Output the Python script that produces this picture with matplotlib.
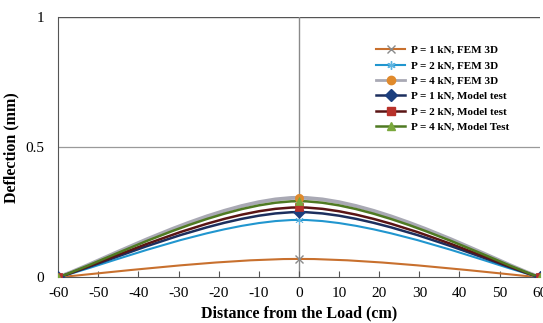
import numpy as np
import matplotlib.pyplot as plt
from matplotlib.path import Path
from matplotlib.patches import PathPatch
from matplotlib.lines import Line2D

plt.rcParams['font.family'] = ['Liberation Serif', 'DejaVu Serif']
plt.rcParams['axes.unicode_minus'] = False

# Data: deflection (mm) at the measured stations
distance = [-60, 0, 60]
labels = ['P = 1 kN, FEM 3D', 'P = 2 kN, FEM 3D', 'P = 4 kN, FEM 3D',
          'P = 1 kN, Model test', 'P = 2 kN, Model test', 'P = 4 kN, Model Test']
fem_1kn = [0.0, 0.07, 0.0]
fem_2kn = [0.0, 0.22, 0.0]
fem_4kn = [0.0, 0.305, 0.0]
model_1kn = [0.0, 0.25, 0.0]
model_2kn = [0.0, 0.268, 0.0]
model_4kn = [0.0, 0.292, 0.0]
series = [fem_1kn, fem_2kn, fem_4kn, model_1kn, model_2kn, model_4kn]

# style: line colour, marker, marker colour, line width
styles = [
    ('#c8702e', 'x', '#8a8a8a', 1.5),
    ('#2196cf', (6, 2, 0), '#5fb4e0', 1.5),
    ('#a9a9b4', 'o', '#e08a2c', 2.8),
    ('#1c2f5e', 'D', '#1c3f7e', 1.8),
    ('#5a1414', 's', '#b8312a', 1.8),
    ('#4f7a22', '^', '#7aa83c', 1.8),
]
draw_order = [0, 1, 3, 4, 5, 2]


def smooth_path(xs, ys):
    # Catmull-Rom style cubic bezier through the points (Excel "smoothed line")
    pts = np.column_stack([xs, ys]).astype(float)
    n = len(pts)
    verts = [pts[0]]
    codes = [Path.MOVETO]
    for i in range(n - 1):
        p_prev = pts[max(i - 1, 0)]
        p0 = pts[i]
        p1 = pts[i + 1]
        p_next = pts[min(i + 2, n - 1)]
        c1 = p0 + (p1 - p_prev) / 6.0
        c2 = p1 - (p_next - p0) / 6.0
        verts += [c1, c2, p1]
        codes += [Path.CURVE4] * 3
    return Path(verts, codes)


fig = plt.figure(figsize=(5.43, 3.23), dpi=100)
ax = fig.add_axes([0.107, 0.142, 0.887, 0.805])

ax.set_xlim(-60, 60)
ax.set_ylim(0, 1)
ax.axhline(0.5, color='#9a9a9a', lw=0.9, zorder=1)
ax.axhline(1.0, color='#555555', lw=1.0, zorder=1)
ax.axvline(0, color='#8a8a8a', lw=1.0, zorder=1)

handles = []
for i in draw_order:
    col, mk, mcol, lw = styles[i]
    ax.add_patch(PathPatch(smooth_path(distance, series[i]), fill=False,
                           edgecolor=col, lw=lw, zorder=2 + i * 0.1))
    ax.plot(distance, series[i], linestyle='none', marker=mk, color=mcol,
            markersize=6, markeredgewidth=1.0 if mk == 'x' else 0.5,
            zorder=3 + i * 0.1)
for i in range(len(series)):
    col, mk, mcol, lw = styles[i]
    handles.append(Line2D([0], [0], color=col, lw=min(lw, 2.0), marker=mk,
                          markerfacecolor=mcol, markeredgecolor=mcol,
                          markersize=6))

ax.set_xticks(np.arange(-60, 61, 10))
ax.set_yticks([0, 0.5, 1])
ax.set_yticklabels(['0', '0.5', '1'])
ax.tick_params(axis='x', direction='in', length=4, labelsize=11, pad=7,
               color='#555555')
ax.tick_params(axis='y', length=0, labelsize=11, pad=10)

for s in ['top', 'right']:
    ax.spines[s].set_visible(False)
ax.spines['left'].set_color('#555555')
ax.spines['bottom'].set_color('#555555')

ax.set_xlabel('Distance from the Load (cm)', fontsize=11.5, fontweight='bold',
              labelpad=4)
ax.set_ylabel('Deflection (mm)', fontsize=11.5, fontweight='bold', labelpad=4)

leg = ax.legend(handles=handles, labels=labels, loc='upper left',
                bbox_to_anchor=(0.64, 0.93), frameon=False,
                prop={'weight': 'bold', 'size': 8}, handlelength=2.6,
                labelspacing=0.5, handletextpad=0.5)

fig.savefig('out.png', dpi=100)
